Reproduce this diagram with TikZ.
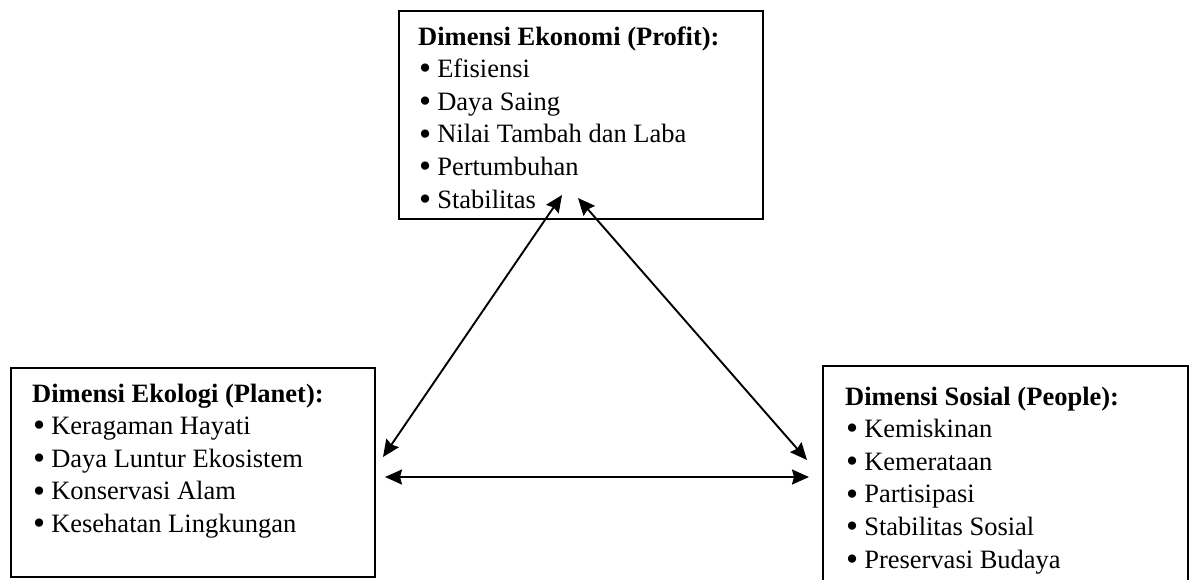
\documentclass[tikz,border=0pt]{standalone}
\usepackage{fontspec}
\setmainfont{Liberation Serif}
\usetikzlibrary{arrows.meta}
\newcommand\itm{\hspace*{1pt}\raisebox{-2.2pt}{\scalebox{1.3}{\textbullet}}\hspace{6pt}}
\begin{document}
\begin{tikzpicture}[x=1pt,y=-1pt,
  box/.style={draw, line width=1.8pt, inner sep=0pt, anchor=north west},
  txt/.style={anchor=base west, align=left, inner sep=0pt, font=\fontsize{26.5}{32.6}\selectfont},
  link/.style={line width=1.9pt, {Stealth[length=17pt,width=15pt,inset=2pt]}-{Stealth[length=17pt,width=15pt,inset=2pt]}}]
\useasboundingbox (0,0) rectangle (1193,579);
% boxes
\node[box, minimum width=364pt, minimum height=208pt] (eko) at (398,10) {};
\node[box, minimum width=364pt, minimum height=209pt] (eco) at (10,367) {};
\draw[line width=1.8pt] (823,580) coordinate (sosbl) -- (823,366) coordinate (sostl) -- (1188,366) coordinate (sostr) -- (1188,580) coordinate (sosbr);
% texts (anchored at the baseline of the last line)
\node[txt] (ekot) at (418,208) {\textbf{Dimensi Ekonomi (Profit):}\\
\itm Efisiensi\\
\itm Daya Saing\\
\itm Nilai Tambah dan Laba\\
\itm Pertumbuhan\\
\itm Stabilitas};
\node[txt] (ecot) at (32,532.4) {\textbf{Dimensi Ekologi (Planet):}\\
\itm Keragaman Hayati\\
\itm Daya Luntur Ekosistem\\
\itm Konservasi Alam\\
\itm Kesehatan Lingkungan};
\node[txt] (sost) at (845,568) {\textbf{Dimensi Sosial (People):}\\
\itm Kemiskinan\\
\itm Kemerataan\\
\itm Partisipasi\\
\itm Stabilitas Sosial\\
\itm Preservasi Budaya};
% arrow ends
\coordinate (aL1) at (383,457);
\coordinate (aT1) at (562,195);
\coordinate (aT2) at (578,198);
\coordinate (aR2) at (807,460);
\coordinate (aL3) at (385,477);
\coordinate (aR3) at (809,477);
\draw[link] (aL1) -- (aT1);
\draw[link] (aT2) -- (aR2);
\draw[link] (aL3) -- (aR3);
\end{tikzpicture}
\end{document}
